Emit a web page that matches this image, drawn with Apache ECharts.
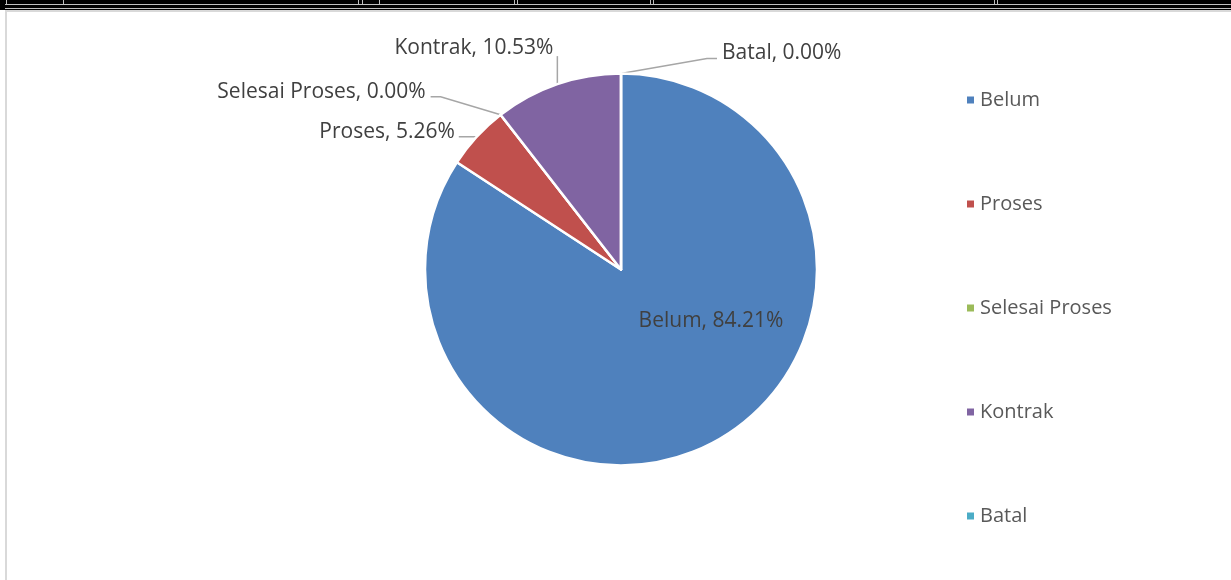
<!DOCTYPE html>
<html>
<head>
<meta charset="utf-8">
<script src="https://cdn.jsdelivr.net/npm/echarts@6/dist/echarts.min.js"></script>
<style>
	html, body { margin: 0; padding: 0; background: #fff; }
	#strip { position: absolute; left: 0; top: 0; width: 1231px; height: 10px; background: #000; z-index: 5; }
	#strip .h { position: absolute; left: 5px; right: 0; top: 4px; height: 1px; background: #c0c0c0; }
	#strip .h2 { position: absolute; left: 5px; right: 0; top: 8px; height: 1px; background: #c0c0c0; }
	#strip .v { position: absolute; top: 0; width: 1px; height: 4px; background: #c0c0c0; }
	#frame { position: absolute; left: 5px; top: 10px; width: 1226px; height: 570px; z-index: 5;
		border-left: 2px solid #d9d9d9; border-top: 2px solid #d9d9d9; box-sizing: border-box; pointer-events: none; }
	#chart0 { position: absolute; left: 0; top: 0; width: 1231px; height: 580px; }
</style>
</head>
<body>
<div id="chart0"></div>
<div id="strip"><div class="h"></div><div class="h2"></div></div>
<div id="frame"></div>
<script>
var categories = ['Belum', 'Proses', 'Selesai Proses', 'Kontrak', 'Batal'];
var counts = [16, 1, 0, 2, 0];
var colors = ['#4F81BD', '#C0504D', '#9BBB59', '#8064A2', '#4BACC6'];

// cell edges of the sheet rows above the chart
var stripLines = [6, 63, 358, 362, 379, 514, 517, 650, 653, 994, 997];
stripLines.forEach(function(x) {
	var d = document.createElement('div');
	d.className = 'v';
	d.style.left = x + 'px';
	document.getElementById('strip').appendChild(d);
});

// label placement, relative to the point where the leader line meets the pie
var labelSpots = [
	{ inside: true, dx: 90, dy: 52 },
	{ line: [[-18, 0]], dx: -22, dy: -5, align: 'right' },
	{ line: [[-60, -18], [-70, -18]], dx: -75, dy: -23, align: 'right' },
	{ line: [[0, -28]], dx: -4, dy: -36, align: 'right' },
	{ line: [[86, -15], [96, -15]], dx: 101, dy: -20, align: 'left' }
];

var cx = 621, cy = 269.5, r = 196;

var myChart = echarts.init(document.getElementById('chart0'));

myChart.setOption({
	animation: false,
	color: colors,
	textStyle: { fontFamily: 'Open Sans' },
	legend: {
		orient: 'vertical',
		left: 960,
		top: 83,
		itemWidth: 9,
		itemHeight: 9,
		itemGap: 80,
		icon: 'rect',
		data: categories,
		textStyle: { fontSize: 20, color: '#595959', lineHeight: 24 }
	},
	series: [{
		type: 'pie',
		center: [cx, cy],
		radius: r,
		startAngle: 90,
		clockwise: true,
		avoidLabelOverlap: false,
		itemStyle: { borderColor: '#fff', borderWidth: 2.5 },
		label: {
			show: true,
			fontSize: 21,
			color: '#404040',
			formatter: function(p) {
				return p.name + ', ' + p.percent.toFixed(2) + '%';
			}
		},
		labelLine: {
			show: true,
			length: 10,
			length2: 10,
			lineStyle: { color: '#a6a6a6', width: 1.5 }
		},
		labelLayout: function(p) {
			var s = labelSpots[p.dataIndex];
			if (s.inside) {
				return { x: cx + s.dx, y: cy + s.dy, align: 'center', verticalAlign: 'middle', labelLinePoints: [[cx, cy], [cx, cy]] };
			}
			var a = p.labelLinePoints[0];
			var pts = [[a[0], a[1]]];
			s.line.forEach(function(o) { pts.push([a[0] + o[0], a[1] + o[1]]); });
			if (pts.length < 3) pts.push(pts[pts.length - 1].slice());
			return {
				x: a[0] + s.dx,
				y: a[1] + s.dy,
				align: s.align,
				verticalAlign: 'middle',
				labelLinePoints: pts
			};
		},
		data: categories.map(function(name, i) {
			var item = { name: name, value: counts[i] };
			if (i === 0) item.labelLine = { show: false };
			return item;
		})
	}]
});
</script>
</body>
</html>
